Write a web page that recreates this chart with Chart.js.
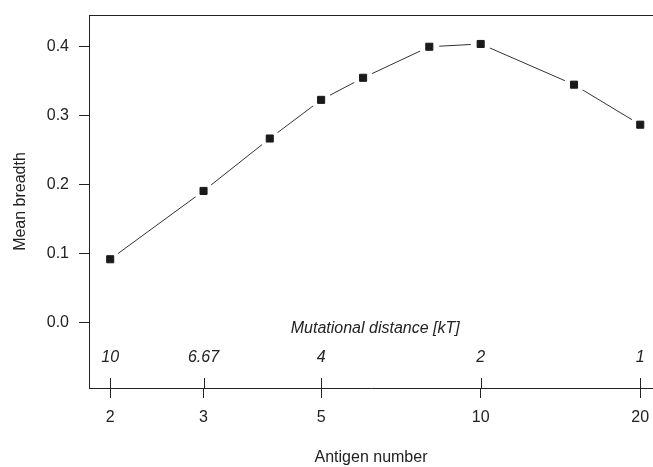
<!DOCTYPE html>
<html>
<head>
<meta charset="utf-8">
<script src="https://cdn.jsdelivr.net/npm/chart.js@4"></script>
<style>
  html, body { margin: 0; padding: 0; background: #fff; }
  #wrap { width: 653px; height: 467px; }
</style>
</head>
<body>
<div id="wrap"><canvas id="breadthChart"></canvas></div>
<script>
const antigenNumbers = [2, 3, 4, 5, 6, 8, 10, 15, 20];
const meanBreadth = [0.092, 0.191, 0.267, 0.323, 0.355, 0.400, 0.404, 0.345, 0.287];
const antigenTicks = [2, 3, 5, 10, 20];
const breadthTicks = [0.0, 0.1, 0.2, 0.3, 0.4];
const distanceTicks = ['10', '6.67', '4', '2', '1'];

const ink = '#222';
const font16 = { family: '"Liberation Sans", Arial, sans-serif', size: 16 };

const toPoints = () => antigenNumbers.map((x, i) => ({ x, y: meanBreadth[i] }));

// the scales add their own label overhang padding; drop it so the plot box sits where asked
const noOverhang = (s) => {
  s.paddingLeft = 0;
  s.paddingRight = 0;
  s.paddingTop = 0;
  s.paddingBottom = 0;
};

// top frame line, upward tick halves and the inner "mutational distance" axis
const innerAxis = {
  id: 'innerAxis',
  afterDraw(chart) {
    const { ctx, chartArea, scales: { x } } = chart;
    ctx.save();
    ctx.strokeStyle = ink;
    ctx.lineWidth = 1;
    ctx.beginPath();
    ctx.moveTo(chartArea.left, chartArea.top + 0.5);
    ctx.lineTo(chartArea.right, chartArea.top + 0.5);
    antigenTicks.forEach((v) => {
      const px = Math.round(x.getPixelForValue(v)) + 0.5;
      ctx.moveTo(px, chartArea.bottom);
      ctx.lineTo(px, chartArea.bottom - 10);
    });
    ctx.stroke();

    ctx.fillStyle = ink;
    ctx.font = 'italic 16px "Liberation Sans", Arial, sans-serif';
    ctx.textAlign = 'center';
    ctx.textBaseline = 'middle';
    antigenTicks.forEach((v, i) => {
      ctx.fillText(distanceTicks[i], x.getPixelForValue(v), chartArea.bottom - 30);
    });
    const mid = Math.sqrt(antigenTicks[0] * antigenTicks[antigenTicks.length - 1]);
    ctx.fillText('Mutational distance [kT]', x.getPixelForValue(mid), chartArea.bottom - 59);
    ctx.restore();
  }
};

new Chart(document.getElementById('breadthChart'), {
  type: 'scatter',
  data: {
    datasets: [
      {
        // connecting line
        data: toPoints(),
        showLine: true,
        borderColor: '#333',
        backgroundColor: '#333',
        borderWidth: 1,
        pointRadius: 0,
        pointHoverRadius: 0,
        order: 3,
      },
      {
        // white discs leave gaps in the line round each marker
        data: toPoints(),
        showLine: false,
        backgroundColor: '#ffffff',
        borderColor: '#ffffff',
        pointStyle: 'circle',
        pointRadius: 10,
        pointHoverRadius: 10,
        pointBorderWidth: 0,
        order: 2,
      },
      {
        data: toPoints(),
        showLine: false,
        backgroundColor: '#1a1a1a',
        borderColor: '#1a1a1a',
        pointStyle: 'rect',
        pointRadius: 5,
        pointHoverRadius: 5,
        pointBorderWidth: 1,
        order: 1,
      },
    ],
  },
  options: {
    responsive: true,
    maintainAspectRatio: false,
    animation: false,
    events: [],
    layout: { autoPadding: false, padding: { top: 15, left: 0, right: 0, bottom: 0 } },
    plugins: { legend: { display: false }, tooltip: { enabled: false } },
    scales: {
      x: {
        type: 'logarithmic',
        position: 'bottom',
        min: 1.824,
        max: 21.14,
        afterBuildTicks: (s) => { s.ticks = antigenTicks.map((v) => ({ value: v })); },
        afterFit: (s) => { s.height = 79; noOverhang(s); },
        ticks: {
          callback: (v) => String(v),
          color: ink,
          font: font16,
          padding: 10,
          maxRotation: 0,
          autoSkip: false,
        },
        grid: { drawOnChartArea: false, drawTicks: true, tickLength: 10, tickColor: ink },
        border: { color: ink, width: 1 },
        title: { display: true, text: 'Antigen number', color: ink, font: font16, padding: { top: 0, bottom: 0 } },
      },
      y: {
        min: -0.0946,
        max: 0.446,
        afterBuildTicks: (s) => { s.ticks = breadthTicks.map((v) => ({ value: v })); },
        afterFit: (s) => { s.width = 89; noOverhang(s); },
        ticks: {
          callback: (v) => v.toFixed(1),
          color: ink,
          font: font16,
          padding: 10,
        },
        grid: { drawOnChartArea: false, drawTicks: true, tickLength: 10, tickColor: ink },
        border: { color: ink, width: 1 },
        title: { display: true, text: 'Mean breadth', color: ink, font: font16, padding: { top: 11, bottom: 0 } },
      },
    },
  },
  plugins: [innerAxis],
});
</script>
</body>
</html>
